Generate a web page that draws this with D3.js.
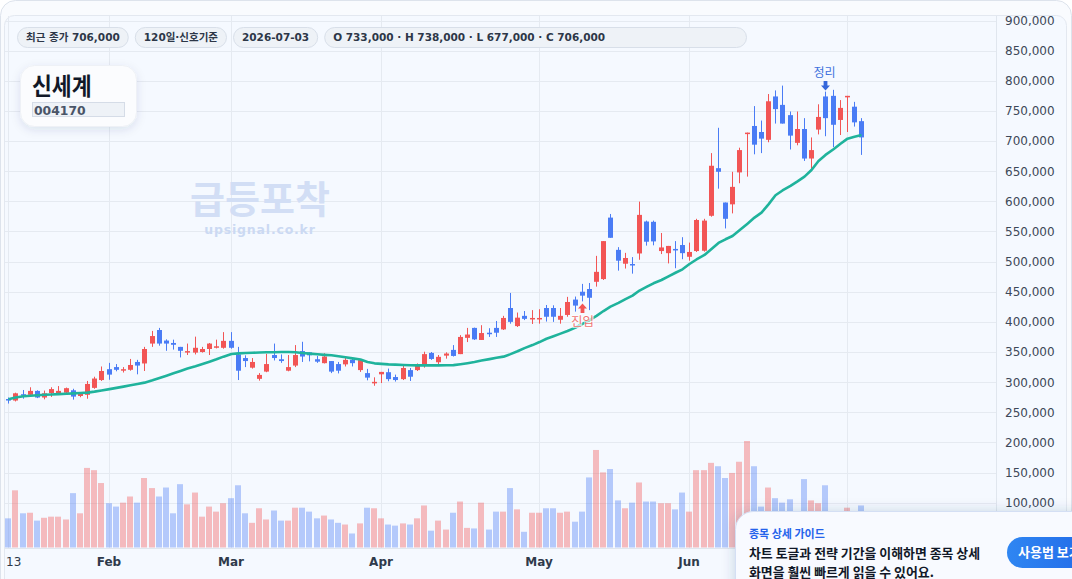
<!DOCTYPE html>
<html>
<head>
<meta charset="utf-8">
<script src="https://cdn.jsdelivr.net/npm/d3@7"></script>
<style>
  html, body { margin: 0; padding: 0; background: #ffffff; overflow: hidden; }
  svg { display: block; }
</style>
</head>
<body>
<svg id="chart" width="1072" height="579"></svg>
<script>
// ---- data ----
var stockName = '신세계'
var stockCode = '004170'
var lastDate = '2026-07-03'
var periodLabel = '120일·신호기준'

var opens = [272000,269500,280000,279000,285500,274500,282000,281000,282500,286500,
  277000,279000,290500,303500,321500,325000,320500,320500,333500,331000,
  364000,386500,369000,365000,358500,350500,349000,350000,355000,357000,
  357000,368500,346000,340000,324000,305500,317500,345000,338000,319000,
  327500,351500,349500,338000,331500,335000,330000,329500,337000,320000,
  315000,299000,313000,316500,308500,305000,320000,320000,330000,348500,
  333000,344000,353500,346500,373500,390000,370000,382000,390000,387500,
  423000,393000,410000,405500,405500,423000,423000,403500,411500,437000,
  450000,454500,466500,471000,573000,519500,496500,496000,513500,566500,
  566000,517500,514000,521000,527500,508000,517500,518000,576000,655000,
  598000,595000,648000,712000,725000,715000,702000,774000,760000,743000,
  697000,720000,671000,719000,774000,775000,735000,773000,757000,733000]

var highs = [274500,282500,287000,291500,286500,286000,291500,293500,291000,289000,
  283500,302000,309000,326000,332000,330000,325000,338500,337000,358500,
  385000,390000,371000,370500,358500,364000,375500,358500,365000,370500,
  383000,383000,358500,344500,340000,315000,347000,364000,346000,345000,
  361500,367000,349500,343500,348000,335000,333500,342500,340000,338000,
  322000,308000,317000,322500,312500,330000,323500,331000,350500,350000,
  345000,349500,361500,378000,390000,390500,394500,389500,401500,410000,
  448000,415500,418000,419500,421000,428000,427500,423000,441500,442000,
  463000,464500,509500,534000,579000,524000,514500,507500,599500,568000,
  568000,547500,526000,534000,540500,531500,571000,571000,680000,722000,
  598000,649000,689000,714000,758000,734000,778000,784000,792000,749000,
  749000,738000,706000,761000,782000,785000,768000,775000,765000,738000]

var lows = [264500,268000,272500,275500,273500,271500,275500,279000,281500,271000,
  275000,272500,289000,302000,304000,318000,316000,319000,313000,318500,
  358500,360500,352000,354000,341000,345000,346000,349000,345000,356000,
  355500,355500,303500,325000,322500,302500,316500,336000,332000,318000,
  325000,333500,334500,332000,331000,315000,314500,326000,326000,317000,
  303000,294000,298500,301500,301000,303500,302000,318500,324000,337000,
  328000,339000,342500,346500,366500,370000,370000,375000,375000,386500,
  397000,391500,403000,396500,397000,400500,400000,397000,408500,417000,
  434000,419500,458500,469500,539500,485000,488500,480000,503000,526500,
  527000,512500,497000,489000,504000,501500,516000,516500,574500,621000,
  555000,580000,630000,641000,678000,680000,698000,729000,729000,686000,
  693000,667000,651000,711000,708000,690000,710000,715000,724000,677000]

var closes = [270000,281500,279000,285500,274500,281500,288500,285500,290000,276000,
  281500,297000,306000,318500,312500,320500,321500,328500,327500,355000,
  376500,364000,364000,362000,352000,351500,357000,355000,364000,359500,
  368500,357000,319000,335000,333500,312000,330000,340000,335000,325000,
  345000,342500,344500,334000,342500,317500,319000,337000,331500,336500,
  307500,300500,317000,305000,303500,323500,309000,330000,346500,338500,
  342000,347500,343500,375000,379000,371000,381500,381000,382000,406500,
  400000,407000,405000,406500,406500,408500,408500,410000,433000,427000,
  443500,440000,483000,534000,539500,501500,506000,494500,577500,533000,
  533500,523500,526000,520000,514000,516000,569000,568000,659000,649000,
  571000,624000,685000,714000,694000,704000,766000,753000,729000,709000,
  720000,671000,685000,740000,738000,727000,755000,775000,731000,706000]

// volume, thousand shares
var volumes = [52,102,61,62,48,53,55,55,50,97,
  61,142,138,115,79,73,80,91,80,124,
  106,91,107,61,113,77,98,55,73,64,
  79,88,111,61,44,70,50,66,48,48,
  71,71,64,52,57,50,44,41,25,43,
  71,70,52,41,39,43,41,52,75,30,
  48,32,62,82,35,34,80,32,64,64,
  106,68,28,62,62,70,70,62,64,46,
  64,125,174,134,140,84,70,80,116,82,
  82,79,79,68,98,64,138,138,151,145,
  124,133,153,190,145,73,107,88,80,86,
  55,122,84,79,111,60,50,71,58,75]

var ma = [271500,274500,276500,277500,278300,279000,279600,280200,280800,281300,
  281900,282600,284300,286300,288400,290500,292600,294800,297000,299200,
  303200,307000,310800,314700,318600,322500,326400,330200,334000,338000,
  342300,346700,347800,348400,348800,349100,349500,349700,349900,350000,
  349500,348400,347300,346200,345300,344500,343000,341200,339500,337500,
  333500,331200,330300,329500,329000,328500,328100,327900,327800,327800,
  327900,328000,328300,329800,331500,333400,335800,338200,340500,342300,
  346500,351200,356500,361500,366500,372000,376300,380500,384900,390500,
  396500,403000,410000,418000,425200,431500,437800,443500,452000,458000,
  464000,469500,475500,481500,487200,496000,503500,511000,521000,531000,
  537000,542500,552000,563000,573000,581200,595000,610000,618000,625500,
  633000,641000,652000,667000,677000,686300,695500,704000,707300,710000]

// month starts (grid) and the labels the time scale shows
var monthIndex = [0, 14, 31, 52, 74, 95, 117]
var tickIndex = [0, 14, 31, 52, 74, 95]
var tickLabels = ['13', 'Feb', 'Mar', 'Apr', 'May', 'Jun']

var signalIndex = [80, 114]
var signalType = ['entry', 'exit']
var signalText = ['진입', '정리']

var guideTitle = '종목 상세 가이드'
var guideLines = ['차트 토글과 전략 기간을 이해하면 종목 상세', '화면을 훨씬 빠르게 읽을 수 있어요.']
var guideButton = '사용법 보기'

// ---- setup ----
var UP = '#f25555'
var DOWN = '#4a7cf5'
var KR = '"Noto Sans CJK KR", "Noto Sans CJK SC", sans-serif'
var LAT = '"DejaVu Sans", "Noto Sans CJK KR", sans-serif'
var fmt = d3.format(',')

var svg = d3.select('#chart')
var defs = svg.append('defs')

defs.append('filter').attr('id', 'shadow').attr('x', '-30%').attr('y', '-30%')
    .attr('width', '160%').attr('height', '180%')
  .append('feDropShadow')
    .attr('dx', 0).attr('dy', 3).attr('stdDeviation', 5)
    .attr('flood-color', '#1e3a6e').attr('flood-opacity', 0.11)

defs.append('filter').attr('id', 'popshadow').attr('x', '-20%').attr('y', '-40%')
    .attr('width', '140%').attr('height', '180%')
  .append('feDropShadow')
    .attr('dx', -2).attr('dy', -1).attr('stdDeviation', 6)
    .attr('flood-color', '#1e3a6e').attr('flood-opacity', 0.16)

var grad = defs.append('linearGradient').attr('id', 'btn')
grad.append('stop').attr('offset', '0%').attr('stop-color', '#2f86f2')
grad.append('stop').attr('offset', '100%').attr('stop-color', '#1d5fe4')

defs.append('clipPath').attr('id', 'plotclip')
  .append('rect').attr('x', 5).attr('y', 16).attr('width', 991).attr('height', 532)

// card + pane
svg.append('rect').attr('x', 0.5).attr('y', 0.5).attr('width', 1071).attr('height', 640)
    .attr('rx', 15).attr('fill', '#f9fbfe').attr('stroke', '#dde3ec')
svg.append('rect').attr('x', 4.5).attr('y', 15.5).attr('width', 1062).attr('height', 640)
    .attr('rx', 10).attr('fill', '#f5f9ff').attr('stroke', '#e3e8f0')

// scales
var x = d3.scaleBand().domain(d3.range(closes.length)).range([4.7, 864.9])
var cx = function (i) { return Math.round(x(i) + x.bandwidth() / 2) }
var y = d3.scaleLinear().domain([100000, 900000]).range([502.7, 20.5])
var yVol = d3.scaleLinear().domain([0, 190]).range([547.5, 441])

var priceTicks = y.ticks(18).filter(function (d) { return d >= 50000 && d <= 900000 })

// grid
var grid = svg.append('g').attr('stroke', '#e5eaf1').attr('stroke-width', 1)
grid.selectAll('.h').data(priceTicks).enter().append('line')
    .attr('x1', 5).attr('x2', 996)
    .attr('y1', function (d) { return Math.round(y(d)) + 0.5 })
    .attr('y2', function (d) { return Math.round(y(d)) + 0.5 })
grid.selectAll('.v').data(monthIndex).enter().append('line')
    .attr('x1', function (d) { return cx(d) + 0.5 })
    .attr('x2', function (d) { return cx(d) + 0.5 })
    .attr('y1', 16).attr('y2', 548)

// axis borders
svg.append('line').attr('x1', 996.5).attr('x2', 996.5).attr('y1', 16).attr('y2', 579)
    .attr('stroke', '#e0e6ee')
svg.append('line').attr('x1', 5).attr('x2', 996).attr('y1', 548.5).attr('y2', 548.5)
    .attr('stroke', '#e0e6ee')

// watermark
svg.append('text').attr('x', 260).attr('y', 213).attr('text-anchor', 'middle')
    .attr('font-family', KR).attr('font-weight', 700).attr('font-size', 38)
    .attr('fill', '#d2def5')
    .text('급등포착')
svg.append('text').attr('x', 260).attr('y', 234).attr('text-anchor', 'middle')
    .attr('font-family', LAT).attr('font-weight', 700).attr('font-size', 12.5)
    .attr('letter-spacing', 0.8).attr('fill', '#cbd9f3')
    .text('upsignal.co.kr')

var plot = svg.append('g').attr('clip-path', 'url(#plotclip)')

// volume
plot.append('g').selectAll('rect').data(volumes).enter().append('rect')
    .attr('x', function (d, i) { return cx(i) - 3 })
    .attr('width', 6)
    .attr('y', function (d) { return yVol(d) })
    .attr('height', function (d) { return yVol(0) - yVol(d) })
    .attr('fill', function (d, i) { return closes[i] >= opens[i] ? UP : DOWN })
    .attr('fill-opacity', 0.38)

// candles
var candles = plot.append('g').selectAll('g').data(closes).enter().append('g')
    .attr('fill', function (d, i) { return d >= opens[i] ? UP : DOWN })
    .attr('stroke', function (d, i) { return d >= opens[i] ? UP : DOWN })

candles.append('line')
    .attr('x1', function (d, i) { return cx(i) + 0.5 })
    .attr('x2', function (d, i) { return cx(i) + 0.5 })
    .attr('y1', function (d, i) { return y(highs[i]) })
    .attr('y2', function (d, i) { return y(lows[i]) })
    .attr('stroke-width', 1)

candles.append('rect')
    .attr('stroke', 'none')
    .attr('x', function (d, i) { return cx(i) - 2 })
    .attr('width', 5)
    .attr('y', function (d, i) { return y(Math.max(d, opens[i])) })
    .attr('height', function (d, i) { return Math.max(1.5, Math.abs(y(d) - y(opens[i]))) })

// moving average
var line = d3.line()
    .x(function (d, i) { return cx(i) + 0.5 })
    .y(function (d) { return y(d) })
plot.append('path').attr('d', line(ma))
    .attr('fill', 'none').attr('stroke', '#1fb39c').attr('stroke-width', 2.6)
    .attr('stroke-linejoin', 'round')

// signals
signalIndex.forEach(function (idx, k) {
  var px = cx(idx) + 0.5
  var g = plot.append('g')
  if (signalType[k] === 'entry') {
    var t = y(lows[idx]) + 2
    g.append('path').attr('fill', UP)
        .attr('d', 'M' + px + ',' + t + 'l4.5,5h-2.6v4.5h-3.8v-4.5h-2.6z')
    g.append('text').attr('x', px).attr('y', t + 23).attr('text-anchor', 'middle')
        .attr('font-family', KR).attr('font-size', 12.5).attr('fill', '#f07474')
        .attr('stroke', '#ffffff').attr('stroke-width', 2.2).attr('stroke-opacity', 0.7)
        .attr('paint-order', 'stroke')
        .text(signalText[k])
  } else {
    var b = y(highs[idx]) - 1
    g.append('path').attr('fill', '#3567db')
        .attr('d', 'M' + px + ',' + b + 'l4.5,-5h-2.6v-4.5h-3.8v4.5h-2.6z')
    g.append('text').attr('x', px - 1).attr('y', b - 14).attr('text-anchor', 'middle')
        .attr('font-family', KR).attr('font-size', 12).attr('fill', '#3f72dd')
        .text(signalText[k])
  }
})

// price axis labels
svg.append('g').selectAll('text')
    .data(priceTicks.filter(function (d) { return d >= 100000 }))
  .enter().append('text')
    .attr('x', 1005)
    .attr('y', function (d) { return y(d) + 4.4 })
    .attr('font-family', LAT).attr('font-size', 12).attr('fill', '#3d4858')
    .text(function (d) { return fmt(d) })

// time axis labels
svg.append('g').selectAll('text').data(tickIndex).enter().append('text')
    .attr('x', function (d) { return cx(d) })
    .attr('y', 566)
    .attr('text-anchor', 'middle')
    .attr('font-family', LAT).attr('font-size', 12)
    .attr('font-weight', function (d, i) { return i === 0 ? 400 : 700 })
    .attr('fill', '#2f3a4b')
    .text(function (d, i) { return tickLabels[i] })
    .each(function () {
      var w = this.getComputedTextLength()
      var px = +d3.select(this).attr('x')
      if (px - w / 2 < 6) d3.select(this).attr('x', 6 + w / 2)
    })

// header pills
var n = closes.length - 1
var pillTexts = [
  '최근 종가 ' + fmt(closes[n]),
  periodLabel,
  lastDate,
  'O ' + fmt(opens[n]) + ' · H ' + fmt(highs[n]) + ' · L ' + fmt(lows[n]) + ' · C ' + fmt(closes[n])
]
var px0 = 17
pillTexts.forEach(function (t, k) {
  var g = svg.append('g')
  var r = g.append('rect').attr('x', px0 + 0.5).attr('y', 27.5).attr('height', 20)
      .attr('rx', 10).attr('fill', '#eef2f7').attr('stroke', '#d8dfe9')
  var tx = g.append('text').attr('x', px0 + 9).attr('y', 41.3)
      .attr('font-family', LAT).attr('font-size', 10.5).attr('font-weight', 700)
      .attr('fill', '#2d3748').text(t)
  var w = tx.node().getComputedTextLength() + 18
  if (k === pillTexts.length - 1) w = 747 - px0
  r.attr('width', w - 1)
  px0 += w + 6
})

// name card
var card = svg.append('g')
card.append('rect').attr('x', 20.5).attr('y', 65.5).attr('width', 116).attr('height', 61)
    .attr('rx', 14).attr('fill', '#fbfcfe').attr('stroke', '#eef1f6')
    .attr('filter', 'url(#shadow)')
card.append('text').attr('x', 32).attr('y', 95)
    .attr('font-family', KR).attr('font-weight', 700).attr('font-size', 23.5)
    .attr('fill', '#111827')
    .attr('transform', 'translate(32,0) scale(0.92,1) translate(-32,0)')
    .text(stockName)
card.append('rect').attr('x', 32.5).attr('y', 102.5).attr('width', 92).attr('height', 14)
    .attr('fill', '#eef2f7').attr('stroke', '#d5dce7')
card.append('text').attr('x', 34).attr('y', 114.5)
    .attr('font-family', LAT).attr('font-weight', 700).attr('font-size', 12.4)
    .attr('fill', '#4a5568').text(stockCode)

// guide popup
var pop = svg.append('g')
pop.append('rect').attr('x', 735.5).attr('y', 511.5).attr('width', 380).attr('height', 120)
    .attr('rx', 18).attr('fill', '#f8faff').attr('stroke', '#d4dff4')
    .attr('filter', 'url(#popshadow)')
pop.append('text').attr('x', 749).attr('y', 538)
    .attr('font-family', KR).attr('font-weight', 700).attr('font-size', 11)
    .attr('fill', '#2563eb').text(guideTitle)
pop.selectAll('.gl').data(guideLines).enter().append('text')
    .attr('x', 749).attr('y', function (d, i) { return 557.5 + i * 19 })
    .attr('font-family', KR).attr('font-weight', 700).attr('font-size', 12.9)
    .attr('fill', '#111827').text(function (d) { return d })
pop.append('rect').attr('x', 1007).attr('y', 537).attr('width', 120).attr('height', 31)
    .attr('rx', 15.5).attr('fill', 'url(#btn)')
pop.append('text').attr('x', 1018).attr('y', 557)
    .attr('font-family', KR).attr('font-weight', 700).attr('font-size', 13)
    .attr('fill', '#ffffff').text(guideButton)
</script>
</body>
</html>
